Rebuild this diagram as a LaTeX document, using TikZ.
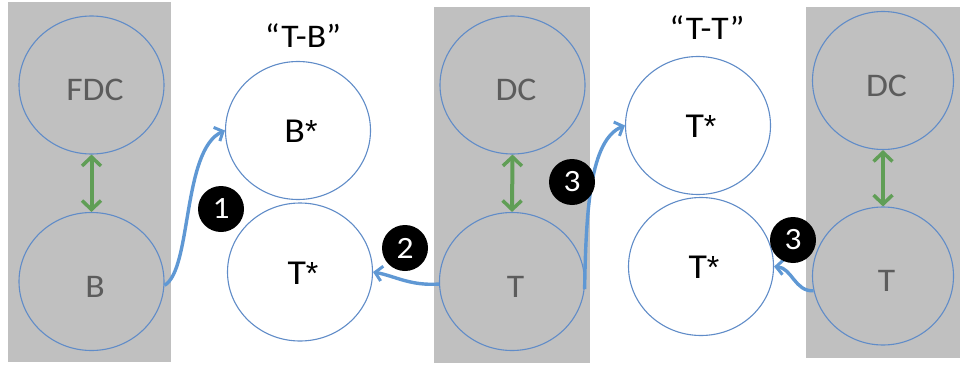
\documentclass[tikz,border=0pt]{standalone}
\usepackage{fontspec}
\setmainfont{Carlito}[FakeStretch=1.08]
\newfontfamily\astfont{Liberation Sans}
\usetikzlibrary{shapes.geometric,arrows.meta}
\definecolor{panelgray}{RGB}{192,192,192}
\definecolor{ringblue}{RGB}{96,140,200}
\definecolor{flowblue}{RGB}{95,152,212}
\definecolor{linkgreen}{RGB}{96,158,86}
\definecolor{labelgray}{RGB}{92,92,92}
% large asterisk set beside the letters
\newcommand{\bigast}{{\astfont\fontsize{32}{34}\selectfont *}}
\begin{document}
\begin{tikzpicture}[x=1pt,y=-1pt,
  panel/.style={fill=panelgray,draw=none},
  blob/.style={ellipse,draw=ringblue,line width=1.1pt,inner sep=0pt,
    minimum width=145pt,minimum height=138pt},
  grayblob/.style={blob,label={[text=labelgray,font=\fontsize{33}{36}\selectfont,
    xshift=3.5pt,yshift=-5pt]center:#1}},
  whiteblob/.style={blob,fill=white,label={[text=black,font=\fontsize{35}{38}\selectfont,
    xshift=3pt,yshift=-1pt]center:#1}},
  badge/.style={circle,fill=black,text=white,inner sep=0pt,minimum size=46pt,
    font=\fontsize{31}{33}\selectfont},
  title/.style={font=\fontsize{33}{36}\selectfont},
  flow/.style={draw=flowblue,line width=3.4pt,
    -{Straight Barb[length=7pt,width=15pt,line width=3pt]}},
  link/.style={draw=linkgreen,line width=4pt,
    {Straight Barb[length=9pt,width=19pt,line width=3.5pt]}-{Straight Barb[length=9pt,width=19pt,line width=3.5pt]}}
]
\useasboundingbox (0,0) rectangle (960,369);

% grey panels
\fill[panel] (8,2) rectangle (171,362);
\fill[panel] (434,7) rectangle (590,363);
\fill[panel] (806,7) rectangle (960,358);

% left panel
\node[grayblob={FDC}] (fdc) at (91.5,85) {};
\node[grayblob={B}] (b) at (91.5,281.5) {};
\draw[link] (fdc.south) -- (b.north);

% "T-B" pair
\node[title] (ttlTB) at (303,36) {“T-B”};
\node[whiteblob={B\bigast}] (bstar) at (298,130.5) {};
\node[whiteblob={T\bigast}] (tstarA) at (300,272) {};

% middle panel
\node[grayblob={DC}] (dcA) at (512.5,85) {};
\node[grayblob={T}] (tA) at (512,281.5) {};
\draw[link] (dcA.south) -- (tA.north);

% "T-T" pair
\node[title] (ttlTT) at (707,28) {“T-T”};
\node[whiteblob={T\bigast}] (tstarB) at (698,125.5) {};
\node[whiteblob={T\bigast}] (tstarC) at (701,266.5) {};

% right panel
\node[grayblob={DC},minimum width=141pt] (dcB) at (883,80.5) {};
\node[grayblob={T},minimum width=141pt] (tB) at (883,276) {};
\draw[link] (dcB.south) -- (tB.north);

% transfers
\draw[flow] (b.-3) .. controls (192,270) and (182,150) .. (bstar.west);
\draw[flow] (tA.182) .. controls (410,286) and (395,276) .. (tstarA.east);
\draw[flow] (tA.-6) .. controls (586,210) and (590,140) .. (tstarB.west);
\draw[flow] (tB.192) .. controls (795,292) and (792,268) .. (tstarC.east);

% step numbers
\node[badge] (n1) at (221,209) {1};
\node[badge] (n2) at (405,248) {2};
\node[badge] (n3a) at (572,182) {3};
\node[badge] (n3b) at (793,240) {3};
\end{tikzpicture}
\end{document}
